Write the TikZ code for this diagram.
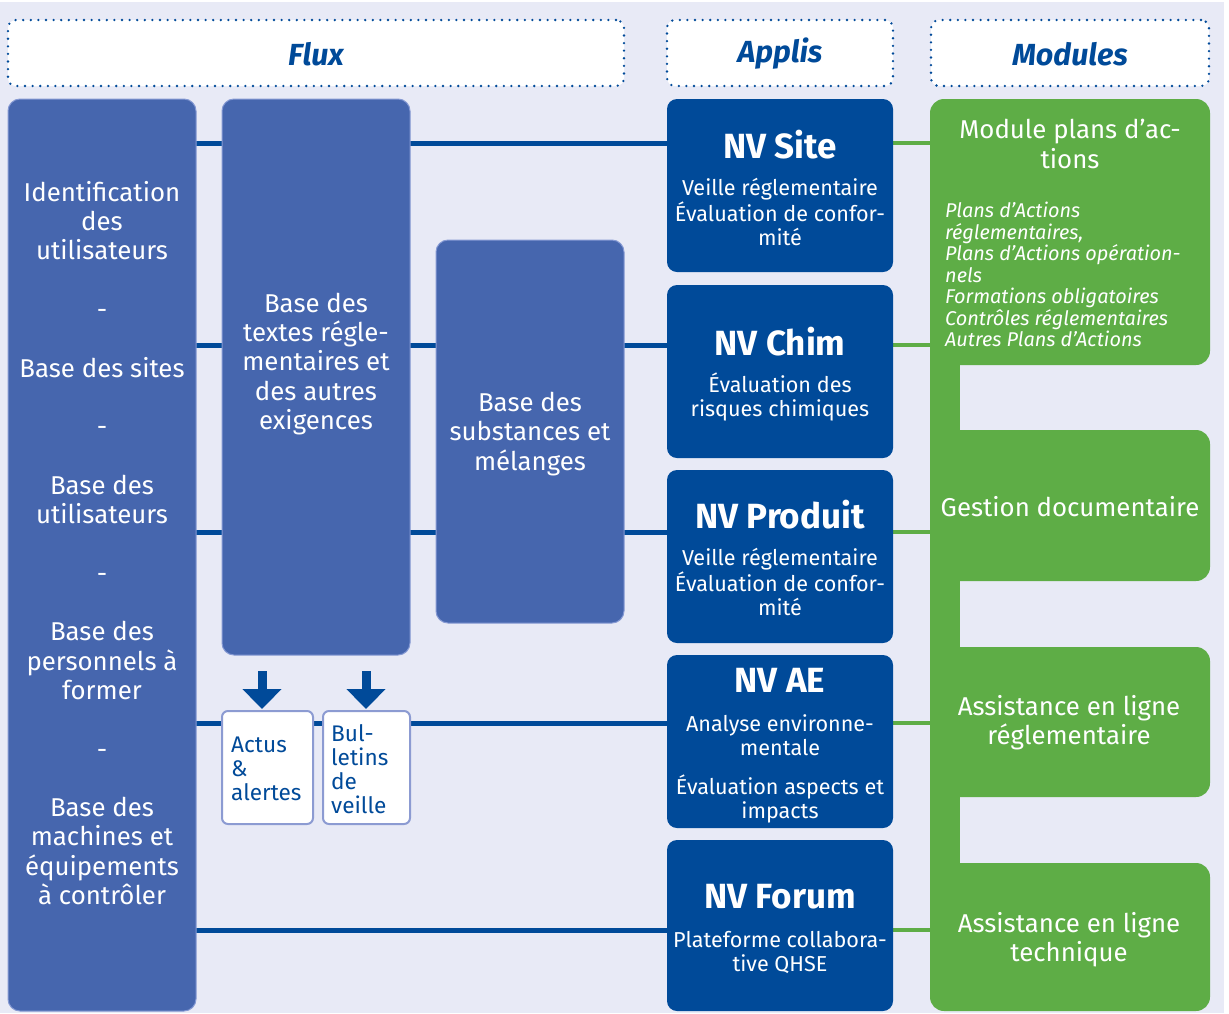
\documentclass[tikz,border=0pt]{standalone}
\usepackage{fontspec}
\setmainfont{Fira Sans}
\usetikzlibrary{arrows.meta}
\definecolor{bgl}{HTML}{E8EAF6}
\definecolor{colb}{HTML}{4666AE}
\definecolor{colbd}{HTML}{8599D3}
\definecolor{nvb}{HTML}{004A99}
\definecolor{grn}{HTML}{5EAD46}
\definecolor{smallbd}{HTML}{8C9BD2}
\pgfdeclarelayer{bg}
\pgfsetlayers{bg,main}
\begin{document}
\begin{tikzpicture}[x=1pt,y=-1pt,
  colbox/.style={fill=colb, draw=colbd, line width=1pt, rounded corners=12pt, inner sep=0pt, outer sep=0pt, anchor=north west},
  nvbox/.style={fill=nvb, rounded corners=10pt, inner sep=0pt, outer sep=0pt, anchor=north west, minimum width=226pt},
  grnbox/.style={fill=grn, rounded corners=14pt, inner sep=0pt, outer sep=0pt, anchor=north west, minimum width=280pt},
  hdr/.style={fill=white, draw=nvb, line width=2.6pt, dash pattern=on 0pt off 7.6pt, line cap=round, rounded corners=8pt, inner sep=0pt, outer sep=0pt, anchor=north west, minimum height=66pt},
  hdrtxt/.style={text=nvb, font=\fontsize{30.5}{35}\selectfont\bfseries\itshape, inner sep=0pt},
  wtxt/.style={text=white, align=center, font=\fontsize{25.8}{29.3}\selectfont, inner sep=0pt},
  nvtitle/.style={text=white, font=\fontsize{35}{40}\selectfont\bfseries, inner sep=0pt},
  nvsub/.style={text=white, align=center, font=\fontsize{21.6}{24}\selectfont, inner sep=0pt},
  listtxt/.style={text=white, align=left, font=\fontsize{19.9}{21.5}\selectfont\itshape, inner sep=0pt, anchor=west},
  bline/.style={draw=nvb, line width=5pt},
  gline/.style={draw=grn, line width=4pt},
  smallbox/.style={fill=white, draw=smallbd, line width=2pt, rounded corners=6pt, inner sep=0pt, outer sep=0pt, anchor=north west, minimum height=113pt},
  smalltxt/.style={text=nvb, align=left, font=\fontsize{22.6}{24}\selectfont, inner sep=0pt, anchor=west},
  bigarrow/.style={draw=nvb, line width=9pt, -{Triangle[width=38pt,length=20pt]}}
]
\begin{pgfonlayer}{bg}
  \fill[white] (0,0) rectangle (1229,1013);
  \fill[bgl] (0,2) rectangle (1224,1013);
\end{pgfonlayer}
\useasboundingbox (0,0) rectangle (1229,1013);

% headers
\node[hdr, minimum width=616pt] (hflux) at (8,20) {};
\node[hdr, minimum width=226pt] (happ) at (667,20) {};
\node[hdr, minimum width=278pt] (hmod) at (931,20) {};
\node[hdrtxt] (tflux) at (316,54) {Flux};
\node[hdrtxt] (tapp) at (780,54) {Applis};
\node[hdrtxt] (tmod) at (1070,54) {Modules};

% flux columns
\node[colbox, minimum width=188pt, minimum height=912pt] (col1) at (8,99) {};
\node[colbox, minimum width=188pt, minimum height=556pt] (col2) at (222,99) {};
\node[colbox, minimum width=188pt, minimum height=383pt] (col3) at (436,240) {};

\node[wtxt] (t1) at (102,543) {Identification\\des\\utilisateurs\\[29.3pt]-\\[29.3pt]Base des sites\\[29.3pt]-\\[29.3pt]Base des\\utilisateurs\\[29.3pt]-\\[29.3pt]Base des\\personnels à\\former\\[29.3pt]-\\[29.3pt]Base des\\machines et\\équipements\\à contrôler};
\node[wtxt] (t2) at (316,364) {Base des\\textes régle-\\mentaires et\\des autres\\exigences};
\node[wtxt] (t3) at (530,434) {Base des\\substances et\\mélanges};

% small boxes
\node[smallbox, minimum width=91pt] (s1) at (222,711) {};
\node[smallbox, minimum width=87pt] (s2) at (323,711) {};
\node[smalltxt] (ts1) at (231,769) {Actus\\\&\\alertes};
\node[smalltxt] (ts2) at (331,769) {Bul-\\letins\\de\\veille};

\coordinate (a1s) at (262,671);
\coordinate (a1e) at (262,709);
\coordinate (a2s) at (366,671);
\coordinate (a2e) at (366,709);
\draw[bigarrow] (a1s) -- (a1e);
\draw[bigarrow] (a2s) -- (a2e);

% applis
\node[nvbox, minimum height=173pt] (nv1) at (667,99) {};
\node[nvbox, minimum height=173pt] (nv2) at (667,285) {};
\node[nvbox, minimum height=173pt] (nv3) at (667,470) {};
\node[nvbox, minimum height=173pt] (nv4) at (667,655) {};
\node[nvbox, minimum height=171pt] (nv5) at (667,840) {};

\node[nvtitle] (n1t) at (780,145) {NV Site};
\node[nvsub] (n1s) at (780,212) {Veille réglementaire\\Évaluation de confor-\\mité};
\node[nvtitle] (n2t) at (780,342) {NV Chim};
\node[nvsub] (n2s) at (780,397) {Évaluation des\\risques chimiques};
\node[nvtitle] (n3t) at (780,515) {NV Produit};
\node[nvsub] (n3s) at (780,582) {Veille réglementaire\\Évaluation de confor-\\mité};
\node[nvtitle] (n4t) at (780,680) {NV AE};
\node[nvsub] (n4s) at (780,735) {Analyse environne-\\mentale};
\node[nvsub] (n4u) at (780,799) {Évaluation aspects et\\impacts};
\node[nvtitle] (n5t) at (780,897) {NV Forum};
\node[nvsub] (n5s) at (780,952) {Plateforme collabora-\\tive QHSE};

% modules
\node[fill=grn, inner sep=0pt, outer sep=0pt, anchor=north west, minimum width=30pt, minimum height=880pt] (spine) at (930,115) {};
\node[grnbox, minimum height=266pt] (g1) at (930,99) {};
\node[grnbox, minimum height=151pt] (g2) at (930,430) {};
\node[grnbox, minimum height=150pt] (g3) at (930,647) {};
\node[grnbox, minimum height=148pt] (g4) at (930,863) {};
\fill[grn] (spine.north west) rectangle (spine.south east);

\node[wtxt] (g1t) at (1070,144) {Module plans d’ac-\\tions};
\node[listtxt] (g1l) at (945,274.5) {Plans d’Actions\\réglementaires,\\Plans d’Actions opération-\\nels\\Formations obligatoires\\Contrôles réglementaires\\Autres Plans d’Actions};
\node[wtxt] (g2t) at (1070,507) {Gestion documentaire};
\node[wtxt] (g3t) at (1069,723) {Assistance en ligne\\réglementaire};
\node[wtxt] (g4t) at (1069,940) {Assistance en ligne\\technique};

% connectors
\coordinate (r1) at (0,143);
\coordinate (r2) at (0,345);
\coordinate (r3) at (0,532);
\coordinate (r4) at (0,723);
\coordinate (r5) at (0,930);
\begin{pgfonlayer}{bg}
  \draw[bline] (col1.east |- r1) -- (nv1.west |- r1);
  \draw[bline] (col1.east |- r2) -- (nv2.west |- r2);
  \draw[bline] (col1.east |- r3) -- (nv3.west |- r3);
  \draw[bline] (col1.east |- r4) -- (nv4.west |- r4);
  \draw[bline] (col1.east |- r5) -- (nv5.west |- r5);
  \draw[gline] (nv1.east |- r1) -- (spine.west |- r1);
  \draw[gline] (nv2.east |- r2) -- (spine.west |- r2);
  \draw[gline] (nv3.east |- r3) -- (spine.west |- r3);
  \draw[gline] (nv4.east |- r4) -- (spine.west |- r4);
  \draw[gline] (nv5.east |- r5) -- (spine.west |- r5);
\end{pgfonlayer}
\end{tikzpicture}
\end{document}
